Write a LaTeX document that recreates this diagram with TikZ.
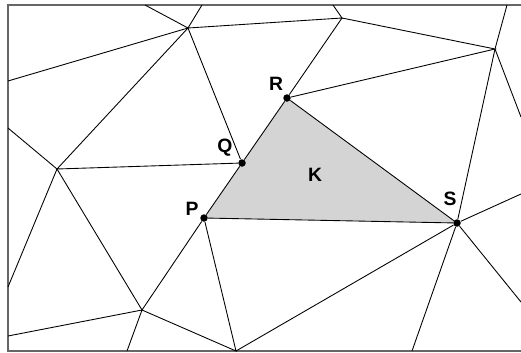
\documentclass[tikz,border=0pt]{standalone}
\usepackage{fontspec}
\setmainfont{Liberation Sans}
\usetikzlibrary{backgrounds}
\begin{document}
\begin{tikzpicture}[x=0.02cm,y=-0.02cm,
        mesh/.style={black,line width=0.5pt},
        vertex/.style={circle,fill=black,inner sep=0pt,minimum size=7.5*0.02cm},
        lbl/.style={font=\fontsize{11}{13}\selectfont\bfseries,inner sep=0pt},
        ]
        \useasboundingbox (0,0) rectangle (521,352);
        % element K
        \node[vertex] (P) at (204,218) {};
        \node[vertex] (Q) at (242,163) {};
        \node[vertex] (R) at (287,98) {};
        \node[vertex] (S) at (457,223) {};
        \begin{scope}[on background layer]
        \fill[black!17] (P.center) -- (R.center) -- (S.center) -- cycle;
        \end{scope}
        % other mesh points
        \coordinate (a) at (188,28);
        \coordinate (b) at (57,169);
        \coordinate (c) at (342,18);
        \coordinate (d) at (495,49);
        \coordinate (e) at (142,310);
        \coordinate (f) at (236,351);
        % frame
        \draw[black!60,line width=0.9pt] (523,5) -- (8,5) -- (8,351) -- (523,351);
        % edges
        \draw[mesh] (145,5) -- (a) -- (202,5);
        \draw[mesh] (8,81) -- (a) -- (c) -- (333,5);
        \draw[mesh] (a) -- (b) -- (Q) -- (a);
        \draw[mesh] (8,128) -- (b) -- (8,287);
        \draw[mesh] (b) -- (e) -- (P) -- (f) -- (e);
        \draw[mesh] (8,336) -- (e) -- (127,351);
        \draw[mesh] (c) -- (R) -- (d) -- (c);
        \draw[mesh] (507,5) -- (d) -- (S);
        \draw[mesh] (d) -- (521,117);
        \draw[mesh] (P) -- (Q) -- (R) -- (S) -- (P);
        \draw[mesh] (f) -- (S) -- (412,351);
        \draw[mesh] (521,194) -- (S) -- (521,302);
        % labels
        \node[lbl] (Rl) at (276,84) {R};
        \node[lbl] (Ql) at (225,148) {Q};
        \node[lbl] (Pl) at (192,209) {P};
        \node[lbl] (Sl) at (450,199) {S};
        \node[lbl] (Kl) at (315,175) {K};
\end{tikzpicture}
\end{document}
